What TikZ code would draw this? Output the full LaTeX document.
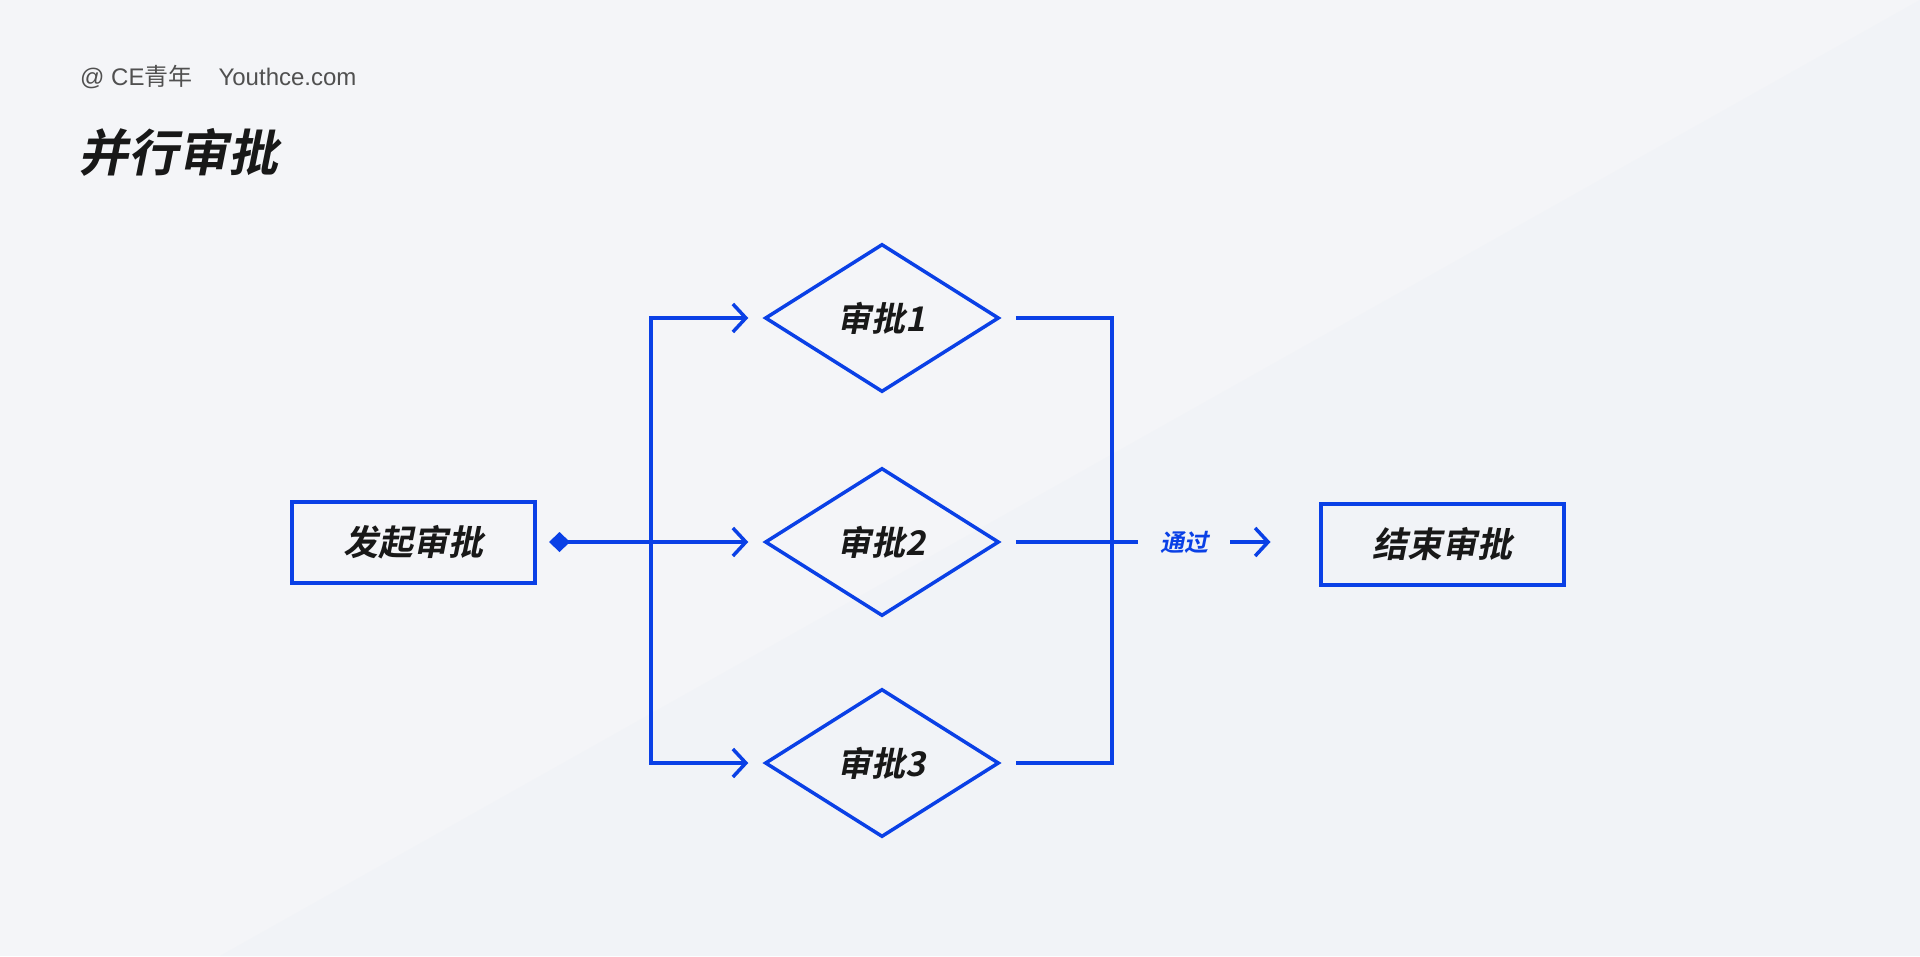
\documentclass[tikz,border=0pt]{standalone}
\usepackage{fontspec}
\usetikzlibrary{shapes.geometric,arrows.meta,calc}
\newfontfamily\cjkfont{Noto Sans CJK SC}
\newfontfamily\latfont{Liberation Sans}
\newfontfamily\cjkbs{Noto Sans CJK SC Bold}[FakeSlant=0.2]
\definecolor{bl}{RGB}{10,64,230}
\definecolor{bgc}{RGB}{244,245,248}
\definecolor{bgd}{RGB}{241,243,247}
\definecolor{hdr}{RGB}{80,80,80}
\definecolor{ink}{RGB}{24,24,24}
\begin{document}
\begin{tikzpicture}[x=1pt,y=-1pt,
  box/.style={draw=bl, line width=4pt, minimum width=243pt, minimum height=81pt, inner sep=0pt,
    font=\cjkbs\fontsize{35}{35}\selectfont, text=ink},
  dia/.style={diamond, draw=bl, line width=3.5pt, minimum width=234pt, minimum height=148pt, inner sep=0pt,
    aspect=1.6, font=\cjkbs\fontsize{34}{34}\selectfont, text=ink},
  conn/.style={draw=bl, line width=3.5pt},
  tip/.style={-{Straight Barb[length=13pt,width=28pt]}}
]
\useasboundingbox (0,0) rectangle (1920,956);
\fill[bgc] (0,0) rectangle (1920,956);
\fill[bgd] (1920,0) -- (1920,956) -- (220,956) -- cycle;

\node[anchor=west, inner sep=0pt, text=hdr, font=\latfont\fontsize{24}{24}\selectfont] (hdrtxt) at (80,77) {@ CE{\cjkfont 青年}\hspace{26pt}Youthce.com};
\node[anchor=west, inner sep=0pt, text=ink, font=\cjkbs\fontsize{50}{50}\selectfont] (title) at (78,152) {并行审批};

\node[box] (start) at (413.5,542) {发起审批};
\node[box] (end) at (1442,544) {结束审批};
\node[dia] (d1) at (882,318) {审批1};
\node[dia] (d2) at (882,542) {审批2};
\node[dia] (d3) at (882,763) {审批3};

\coordinate (busL) at (651,542);
\draw[conn, {Diamond[length=21pt,width=20pt]}-{Straight Barb[length=13pt,width=28pt]}, shorten <=12pt, shorten >=15pt] (start.east |- d2.west) -- (d2.west);
\draw[conn, tip, shorten >=15pt] (busL) |- (d1.west);
\draw[conn, tip, shorten >=15pt] (busL) |- (d3.west);

\coordinate (r1) at (1112,318);
\coordinate (r3) at (1112,763);
\coordinate (m) at (1138,542);
\draw[conn] ([xshift=15pt]d1.east) -- (r1) -- (r3) -- ([xshift=15pt]d3.east);
\draw[conn] ([xshift=15pt]d2.east) -- (m);
\node[inner sep=0pt, text=bl, font=\cjkbs\fontsize{24}{24}\selectfont] (pass) at (1184,542) {通过};
\draw[conn, tip] ([xshift=22pt]pass.east) -- ([xshift=-48pt]end.west |- pass.east);
\end{tikzpicture}
\end{document}
